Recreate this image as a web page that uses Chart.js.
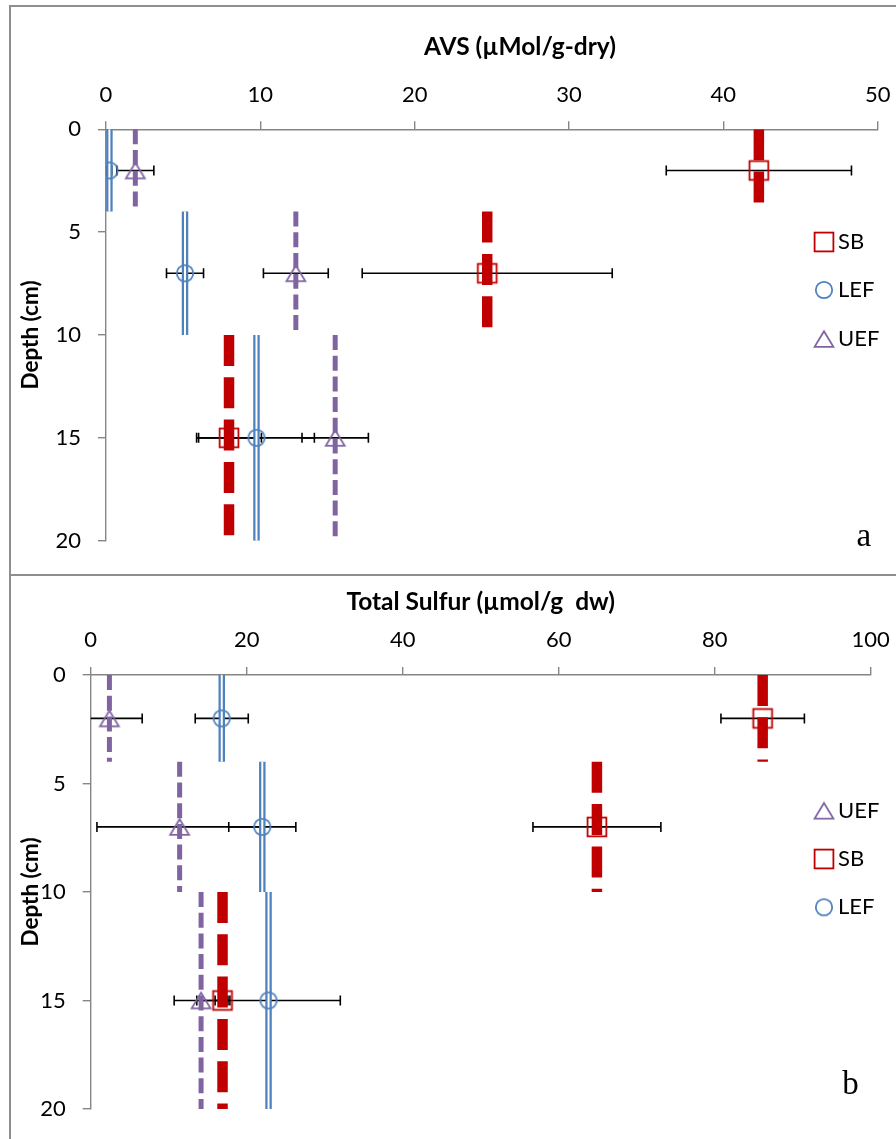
<!DOCTYPE html>
<html><head><meta charset="utf-8">
<script src="https://cdn.jsdelivr.net/npm/chart.js@4.4.1/dist/chart.umd.min.js"></script>
<style>
html,body{margin:0;padding:0;background:#fff;}
body{width:896px;height:1139px;position:relative;overflow:hidden;}
.frame{position:absolute;border:2px solid #8e8e8e;box-sizing:border-box;}
canvas{position:absolute;left:0;}
</style></head><body>
<div class="frame" style="left:9px;top:5px;width:1000px;height:571px"></div>
<div class="frame" style="left:9px;top:574px;width:1000px;height:1000px"></div>
<canvas id="c1" width="896" height="575" style="top:0"></canvas>
<canvas id="c2" width="896" height="564" style="top:575px"></canvas>
<script>
// ---- data ----
const depthTop = [0, 4, 10];
const depthBottom = [4, 10, 20];
const depthMid = [2, 7, 15];
const yTicks = [0, 5, 10, 15, 20];

const avsTicks = [0, 10, 20, 30, 40, 50];
const sbAVS = [42.3, 24.7, 7.97];
const sbAVSerr = [6.0, 8.1, 2.1];
const lefAVS = [0.22, 5.12, 9.75];
const lefAVSerr = [0.15, 1.2, 3.75];
const uefAVS = [1.9, 12.3, 14.85];
const uefAVSerr = [1.2, 2.1, 2.15];

const tsTicks = [0, 20, 40, 60, 80, 100];
const sbTS = [86.15, 64.9, 16.9];
const sbTSerr = [5.35, 8.2, 0.95];
const lefTS = [16.8, 22.0, 22.8];
const lefTSerr = [3.4, 4.3, 9.2];
const uefTS = [2.4, 11.4, 14.15];
const uefTSerr = [4.2, 10.6, 3.45];

// ---- styles ----
const RED = '#C00000', BLUE = '#4F81BD', PURPLE = '#8064A2', AXIS = '#868686';

function markerCanvas(kind, color) {
  const c = document.createElement('canvas');
  c.width = 26; c.height = 26;
  const g = c.getContext('2d');
  g.strokeStyle = color; g.lineWidth = 1.8;
  if (kind === 'square') {
    g.strokeRect(3.6, 3.6, 18.8, 18.8);
  } else if (kind === 'circle') {
    g.beginPath(); g.arc(13, 13, 8.2, 0, Math.PI * 2); g.stroke();
  } else {
    g.beginPath();
    g.moveTo(13, 5.2); g.lineTo(3.6, 20.8); g.lineTo(22.4, 20.8); g.closePath();
    g.lineJoin = 'miter';
    g.stroke();
  }
  return c;
}
const MK = {
  SB: markerCanvas('square', RED),
  LEF: markerCanvas('circle', BLUE),
  UEF: markerCanvas('triangle', PURPLE)
};

function lineSets(values, styles) {
  const out = [];
  values.forEach((v, i) => {
    styles.forEach(st => {
      out.push({
        type: 'line',
        data: [{x: v, y: depthTop[i]}, {x: v, y: depthBottom[i]}],
        borderColor: st.color, borderWidth: st.width, borderDash: st.dash || [],
        borderCapStyle: 'butt', pointRadius: 0, showLine: true, fill: false,
        tension: 0, order: st.order
      });
    });
  });
  return out;
}
const STY = {
  SB: [{color: RED, width: 10.5, dash: [31, 11.3], order: 5}],
  LEF: [{color: BLUE, width: 6.5, order: 5}, {color: '#ffffff', width: 2, order: 4}],
  UEF: [{color: PURPLE, width: 5, dash: [15, 5.7], order: 5}]
};
function markerSet(label, values, errors) {
  return {
    type: 'scatter', label: label,
    data: values.map((v, i) => ({x: v, y: depthMid[i]})),
    errors: errors, pointStyle: MK[label], pointRadius: 9, order: 0
  };
}

// ---- plugins ----
const errPlugin = {
  id: 'errbars',
  beforeDatasetsDraw(chart) {
    const ctx = chart.ctx, xs = chart.scales.x, a = chart.chartArea;
    ctx.save();
    ctx.strokeStyle = '#000'; ctx.lineWidth = 1.6;
    chart.data.datasets.forEach((ds, di) => {
      if (!ds.errors) return;
      const meta = chart.getDatasetMeta(di);
      meta.data.forEach((el, j) => {
        const v = ds.data[j].x, e = ds.errors[j];
        let xl = xs.getPixelForValue(v - e), xr = xs.getPixelForValue(v + e);
        const y = el.y;
        const capL = xl >= a.left - 0.5, capR = xr <= a.right + 0.5;
        xl = Math.max(xl, a.left); xr = Math.min(xr, a.right);
        ctx.beginPath();
        ctx.moveTo(xl, y); ctx.lineTo(xr, y);
        if (capL) { ctx.moveTo(xl, y - 5); ctx.lineTo(xl, y + 5); }
        if (capR) { ctx.moveTo(xr, y - 5); ctx.lineTo(xr, y + 5); }
        ctx.stroke();
      });
    });
    ctx.restore();
  }
};
const annotPlugin = {
  id: 'annot',
  afterDraw(chart, args, opts) {
    const ctx = chart.ctx;
    ctx.save();
    (opts.texts || []).forEach(t => {
      ctx.font = t.font; ctx.fillStyle = '#000';
      ctx.textAlign = t.align || 'center'; ctx.textBaseline = t.baseline || 'middle';
      ctx.fillText(t.text, t.x, t.y);
    });
    (opts.legend || []).forEach(it => {
      const ds = chart.data.datasets.find(d => d.label === it.label);
      const img = ds.pointStyle;
      ctx.drawImage(img, it.x - img.width / 2, it.y - img.height / 2);
      ctx.font = '22px Lato'; ctx.fillStyle = '#000';
      ctx.textAlign = 'left'; ctx.textBaseline = 'middle';
      ctx.fillText(ds.label, it.tx, it.y);
    });
    ctx.restore();
  }
};

function makeChart(canvas, cfg) {
  return new Chart(canvas, {
    type: 'scatter',
    data: {datasets: cfg.datasets},
    plugins: [errPlugin, annotPlugin],
    options: {
      responsive: false, animation: false, devicePixelRatio: 1,
      layout: {padding: cfg.padding},
      events: [],
      plugins: {legend: {display: false}, tooltip: {enabled: false}, annot: cfg.annot},
      scales: {
        x: {
          type: 'linear', position: 'top', min: 0, max: cfg.xTicks[cfg.xTicks.length - 1],
          afterBuildTicks: s => { s.ticks = cfg.xTicks.map(v => ({value: v})); },
          afterFit: s => { s.height = cfg.xAxisH; s.paddingLeft = 0; s.paddingRight = 0; },
          ticks: {font: {family: 'Lato', size: 22}, color: '#000', padding: 13.5, maxRotation: 0, autoSkip: false},
          grid: {drawOnChartArea: false, drawTicks: true, tickLength: 8, color: AXIS, lineWidth: 1.4},
          border: {display: true, color: AXIS, width: 1.4},
          title: cfg.xTitle ? {display: true, text: cfg.xTitle, color: '#000', font: {family: 'Lato', size: 24.5, weight: 'bold'}, padding: {top: 12.3, bottom: 0}} : {display: false}
        },
        y: {
          type: 'linear', position: 'left', reverse: true, min: 0, max: 20,
          afterBuildTicks: s => { s.ticks = yTicks.map(v => ({value: v})); },
          afterFit: s => { s.width = cfg.yAxisW; s.paddingTop = 0; s.paddingBottom = 0; },
          ticks: {font: {family: 'Lato', size: 22}, color: '#000', padding: 17, autoSkip: false},
          grid: {drawOnChartArea: false, drawTicks: true, tickLength: 8, color: AXIS, lineWidth: 1.4},
          border: {display: true, color: AXIS, width: 1.4},
          title: {display: true, text: 'Depth (cm)', color: '#000', font: {family: 'Lato', size: 22.5, weight: 'bold'}, padding: {top: 17.5, bottom: 0}}
        }
      }
    }
  });
}

function build() {
  makeChart(document.getElementById('c1'), {
    xTicks: avsTicks, xAxisH: 129.3, yAxisW: 106,
    padding: {left: 0, top: 0, right: 18.3, bottom: 34.3},
    datasets: [
      markerSet('SB', sbAVS, sbAVSerr),
      markerSet('LEF', lefAVS, lefAVSerr),
      markerSet('UEF', uefAVS, uefAVSerr),
      ...lineSets(sbAVS, STY.SB),
      ...lineSets(lefAVS, STY.LEF),
      ...lineSets(uefAVS, STY.UEF)
    ],
    annot: {
      texts: [
        {text: 'AVS (µMol/g-dry)', x: 520, y: 47.5, font: 'bold 24.5px Lato'},
        {text: 'a', x: 863.7, y: 545.7, font: '33px "Liberation Serif"', baseline: 'alphabetic'}
      ],
      legend: [
        {label: 'SB', x: 824, tx: 838, y: 242},
        {label: 'LEF', x: 824, tx: 838, y: 290},
        {label: 'UEF', x: 824, tx: 838, y: 339}
      ]
    }
  });
  makeChart(document.getElementById('c2'), {
    xTicks: tsTicks, xAxisH: 100, yAxisW: 90.7, xTitle: 'Total Sulfur (µmol/g  dw)',
    padding: {left: 0, top: 0, right: 25.3, bottom: 30},
    datasets: [
      markerSet('UEF', uefTS, uefTSerr),
      markerSet('SB', sbTS, sbTSerr),
      markerSet('LEF', lefTS, lefTSerr),
      ...lineSets(sbTS, STY.SB),
      ...lineSets(lefTS, STY.LEF),
      ...lineSets(uefTS, STY.UEF)
    ],
    annot: {
      texts: [
        {text: 'b', x: 850.5, y: 519, font: '33px "Liberation Serif"', baseline: 'alphabetic'}
      ],
      legend: [
        {label: 'UEF', x: 824, tx: 838, y: 235.7},
        {label: 'SB', x: 824, tx: 838, y: 284},
        {label: 'LEF', x: 824, tx: 838, y: 332.3}
      ]
    }
  });
}
Promise.all([
  document.fonts.load('22px Lato'),
  document.fonts.load('bold 22px Lato'),
  document.fonts.load('33px "Liberation Serif"')
]).then(build, build);
</script>
</body></html>
